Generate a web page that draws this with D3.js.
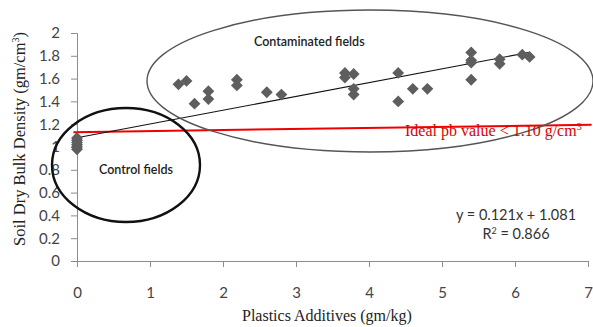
<!DOCTYPE html>
<html>
<head>
<meta charset="utf-8">
<script src="https://cdn.jsdelivr.net/npm/d3@7"></script>
<style>
  html, body { margin: 0; padding: 0; background: #fff; }
  svg { display: block; }
</style>
</head>
<body>
<svg id="chart" width="593" height="327"></svg>
<script>
// Plastic additive rate (gm/kg) and measured soil dry bulk density (gm/cm3)
const controlX = [0, 0, 0, 0, 0, 0];
const controlY = [0.98, 1.00, 1.02, 1.04, 1.06, 1.08];
const contaminatedX = [1.39, 1.50, 1.61, 1.80, 1.80, 2.19, 2.19, 2.60, 2.80,
  3.67, 3.67, 3.79, 3.79, 3.79, 4.40, 4.40, 4.60, 4.80,
  5.40, 5.40, 5.40, 5.40, 5.79, 5.79, 6.10, 6.20];
const contaminatedY = [1.55, 1.58, 1.38, 1.49, 1.42, 1.59, 1.54, 1.48, 1.46,
  1.65, 1.61, 1.64, 1.51, 1.46, 1.65, 1.40, 1.51, 1.51,
  1.83, 1.76, 1.74, 1.59, 1.77, 1.73, 1.81, 1.79];

// Linear fit reported on the chart
const slope = 0.121;
const intercept = 1.081;
const rSquared = 0.866;
const trendRange = [0, 6.2];

// Reference line for the ideal bulk density
const idealLineX = [-0.05, 7.05];
const idealLineY = [1.13, 1.195];

const xTicks = [0, 1, 2, 3, 4, 5, 6, 7];
const yTicks = [0, 0.2, 0.4, 0.6, 0.8, 1, 1.2, 1.4, 1.6, 1.8, 2];

const svg = d3.select("#chart");
const x = d3.scaleLinear().domain([0, 7]).range([77, 588]);
const y = d3.scaleLinear().domain([0, 2]).range([261, 33]);

const axisColor = "#8c8c8c";
const labelColor = "#444";
const tickFont = "Lato, 'Open Sans', sans-serif";
const serif = "'Liberation Serif', 'DejaVu Serif', serif";

// Y axis
const yAxis = svg.append("g")
  .attr("transform", `translate(${x(0)},0)`)
  .call(d3.axisLeft(y).tickValues(yTicks).tickSize(6).tickPadding(11)
    .tickFormat(d => d3.format("~g")(d)));
yAxis.select(".domain").attr("stroke", axisColor);
yAxis.selectAll(".tick line").attr("stroke", axisColor);
yAxis.selectAll(".tick text")
  .attr("fill", labelColor).style("font-family", tickFont).style("font-size", "15px");

// X axis
const xAxis = svg.append("g")
  .attr("transform", `translate(0,${y(0)})`)
  .call(d3.axisBottom(x).tickValues(xTicks).tickSize(6).tickPadding(20)
    .tickFormat(d3.format("d")));
xAxis.select(".domain").attr("stroke", axisColor);
xAxis.selectAll(".tick line").attr("stroke", axisColor);
xAxis.selectAll(".tick text")
  .attr("fill", labelColor).style("font-family", tickFont).style("font-size", "15px");

// Axis titles
svg.append("text")
  .attr("x", 242).attr("y", 321)
  .style("font-family", serif).style("font-size", "16px").attr("fill", "#222")
  .text("Plastics Additives (gm/kg)");

const yTitle = svg.append("text")
  .attr("transform", "translate(25,139) rotate(-90)")
  .attr("text-anchor", "middle")
  .style("font-family", serif).style("font-size", "16.5px").attr("fill", "#222");
yTitle.append("tspan").text("Soil Dry Bulk Density (gm/cm");
yTitle.append("tspan").attr("dy", -6).style("font-size", "10px").text("3");
yTitle.append("tspan").attr("dy", 6).text(")");

// Ideal bulk density line
svg.append("line")
  .attr("x1", x(idealLineX[0])).attr("y1", y(idealLineY[0]))
  .attr("x2", x(idealLineX[1])).attr("y2", y(idealLineY[1]))
  .attr("stroke", "#ee0000").attr("stroke-width", 2);

// Trend line
svg.append("line")
  .attr("x1", x(trendRange[0])).attr("y1", y(intercept + slope * trendRange[0]))
  .attr("x2", x(trendRange[1])).attr("y2", y(intercept + slope * trendRange[1]))
  .attr("stroke", "#111").attr("stroke-width", 1.1);

// Data markers
const diamond = d3.symbol(d3.symbolSquare, 70);
const points = controlX.map((d, i) => [d, controlY[i]])
  .concat(contaminatedX.map((d, i) => [d, contaminatedY[i]]));
svg.append("g").selectAll("path")
  .data(points)
  .join("path")
  .attr("d", diamond)
  .attr("transform", d => `translate(${x(d[0])},${y(d[1])}) rotate(45)`)
  .attr("fill", "#5e5e5e");

// Group outlines
svg.append("ellipse")
  .attr("cx", 370).attr("cy", 81).attr("rx", 223).attr("ry", 71)
  .attr("fill", "none").attr("stroke", "#555").attr("stroke-width", 1.4);
svg.append("ellipse")
  .attr("cx", 126).attr("cy", 165).attr("rx", 74).attr("ry", 57)
  .attr("fill", "none").attr("stroke", "#111").attr("stroke-width", 2.4);

// Group labels
svg.append("text")
  .attr("x", 254).attr("y", 46)
  .style("font-family", tickFont).style("font-size", "12.5px").style("font-weight", "600")
  .attr("fill", "#222").text("Contaminated fields");
svg.append("text")
  .attr("x", 99).attr("y", 174)
  .style("font-family", tickFont).style("font-size", "12.5px").style("font-weight", "600")
  .attr("fill", "#222").text("Control fields");

// Ideal value note
const ideal = svg.append("text")
  .attr("x", 405).attr("y", 136)
  .style("font-family", serif).style("font-size", "16px").attr("fill", "#dd0000");
ideal.append("tspan").text("Ideal pb value < 1.10 g/cm");
ideal.append("tspan").attr("dy", -6).style("font-size", "10px").text("3");

// Regression equation
svg.append("text")
  .attr("x", 516).attr("y", 220).attr("text-anchor", "middle")
  .style("font-family", tickFont).style("font-size", "14.5px").attr("fill", "#333")
  .text(`y = ${slope}x + ${intercept}`);
const r2 = svg.append("text")
  .attr("x", 516).attr("y", 239).attr("text-anchor", "middle")
  .style("font-family", tickFont).style("font-size", "14.5px").attr("fill", "#333");
r2.append("tspan").text("R");
r2.append("tspan").attr("dy", -5).style("font-size", "9px").text("2");
r2.append("tspan").attr("dy", 5).text(` = ${rSquared}`);
</script>
</body>
</html>
